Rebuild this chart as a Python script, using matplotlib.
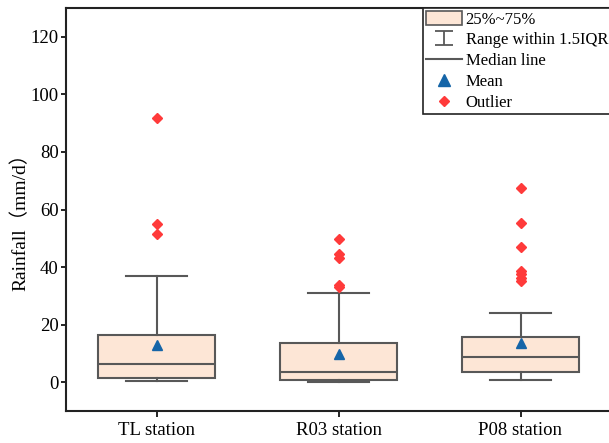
import numpy as np
import matplotlib
matplotlib.use("Agg")
import matplotlib.pyplot as plt
from matplotlib.lines import Line2D
from matplotlib.patches import Patch
from matplotlib.path import Path

plt.rcParams['font.family'] = ['Liberation Serif', 'Noto Sans CJK SC', 'DejaVu Sans']

# values (mm/d)
stations = ['TL station', 'R03 station', 'P08 station']
whis_low = [0.4, 0.2, 0.8]
q1 = [1.6, 0.7, 3.4]
medians = [6.2, 3.4, 8.9]
q3 = [16.3, 13.5, 15.7]
whis_high = [36.8, 31.0, 24.1]
means = [12.9, 9.7, 13.5]
outliers = [
    [91.9, 54.9, 51.6],
    [49.8, 44.5, 43.1, 33.9, 33.2],
    [67.6, 55.3, 47.0, 38.8, 37.6, 36.3, 35.0],
]

box_face = '#fde6d6'
edge_col = '#585858'
mean_col = '#1565a8'
out_col = '#ff3a3a'

stats = []
for i in range(len(stations)):
    stats.append(dict(label=stations[i], whislo=whis_low[i], q1=q1[i],
                      med=medians[i], q3=q3[i], whishi=whis_high[i],
                      mean=means[i], fliers=outliers[i]))

fig = plt.figure(figsize=(6.09, 4.43), dpi=100)
ax = fig.add_axes([65.5 / 609, 1 - 411 / 443, 546 / 609, 403 / 443])

pos = np.arange(1, len(stations) + 1)
ax.bxp(stats, positions=pos, widths=0.64, patch_artist=True, showmeans=True,
       boxprops=dict(facecolor=box_face, edgecolor=edge_col, linewidth=1.5),
       medianprops=dict(color=edge_col, linewidth=1.5),
       whiskerprops=dict(color=edge_col, linewidth=1.5),
       capprops=dict(color=edge_col, linewidth=1.5),
       capwidths=0.33,
       meanprops=dict(marker='^', markerfacecolor=mean_col,
                      markeredgecolor=mean_col, markersize=7.5),
       flierprops=dict(marker='D', markerfacecolor=out_col,
                       markeredgecolor=out_col, markersize=5.5))

ax.set_xlim(0.5, 3.5)
ax.set_ylim(-10, 130)
ax.set_yticks(np.arange(0, 121, 20))
ax.set_xticks(pos)
ax.set_xticklabels(stations, fontsize=13.5)
ax.tick_params(axis='y', labelsize=13.5, direction='out', length=3.5,
               width=1.2, pad=1.5)
ax.tick_params(axis='x', direction='out', length=4, width=1.2, pad=4)
ax.tick_params(top=False, right=False)
for s in ax.spines.values():
    s.set_linewidth(1.5)
    s.set_color('#222222')
ax.spines['right'].set_visible(False)
ax.set_ylabel('Rainfall（mm/d）', fontsize=14)
ax.yaxis.set_label_coords(-0.065, 0.48)

# whisker-range legend glyph: an "I" with caps
ibar = Path([(-0.6, -0.45), (0.6, -0.45), (0, -0.45), (0, 0.45),
             (-0.6, 0.45), (0.6, 0.45)],
            [Path.MOVETO, Path.LINETO, Path.MOVETO, Path.LINETO,
             Path.MOVETO, Path.LINETO])
handles = [
    Patch(facecolor=box_face, edgecolor=edge_col, linewidth=1.2),
    Line2D([], [], marker=ibar, linestyle='none', color=edge_col,
           markersize=13, markeredgewidth=1.3),
    Line2D([], [], color=edge_col, linewidth=1.5),
    Line2D([], [], marker='^', linestyle='none', color=mean_col, markersize=8),
    Line2D([], [], marker='D', linestyle='none', color=out_col, markersize=5),
]
labels = ['25%~75%', 'Range within 1.5IQR', 'Median line', 'Mean', 'Outlier']
leg = fig.legend(handles, labels, loc='upper left',
                 bbox_to_anchor=(423 / 609, 1 - 8 / 443),
                 bbox_transform=fig.transFigure, fontsize=12,
                 frameon=True, fancybox=False, framealpha=1,
                 edgecolor='#222222', borderaxespad=0, borderpad=0.2,
                 labelspacing=0.26, handlelength=2.15, handleheight=0.85,
                 handletextpad=0.2)
leg.get_frame().set_linewidth(1.2)

fig.savefig('out.png', dpi=100)
